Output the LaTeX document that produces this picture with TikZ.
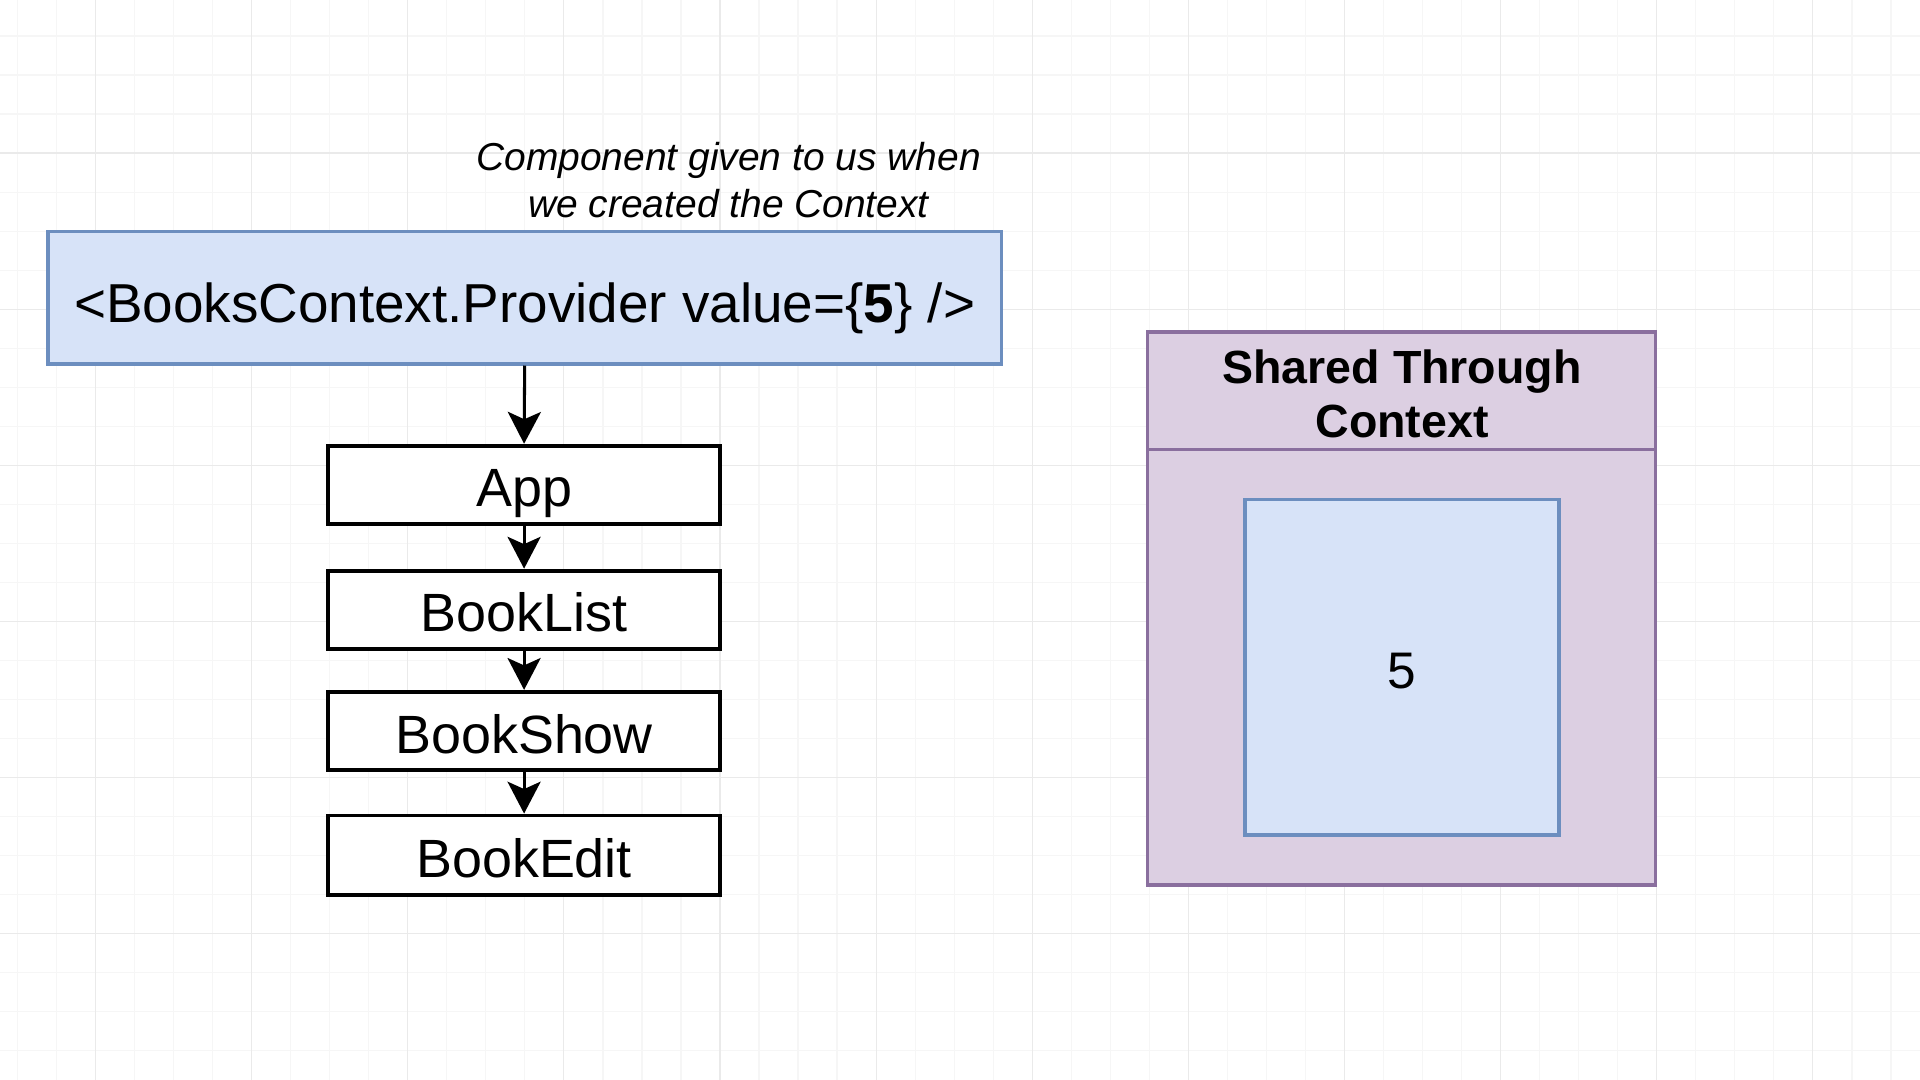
\documentclass[tikz,border=0pt]{standalone}
\usepackage{fontspec}
\setmainfont{Liberation Sans}
\usetikzlibrary{arrows.meta}
\definecolor{provfill}{HTML}{D7E3F8}
\definecolor{provline}{HTML}{6C8EBF}
\definecolor{grpfill}{HTML}{DCCFE2}
\definecolor{grpline}{HTML}{8A6F9E}
\definecolor{gridminor}{HTML}{F6F6F6}
\definecolor{gridmajor}{HTML}{EAEAEA}
\tikzset{
  compbox/.style={draw=black, line width=1.6pt, fill=white, rectangle,
    minimum width=160pt, minimum height=32pt, inner sep=0pt,
    text height=18pt, text depth=0pt,
    font=\fontsize{22}{26}\selectfont},
  bluebox/.style={draw=provline, line width=1.5pt, fill=provfill, rectangle, inner sep=0pt},
  flowarrow/.style={draw=black, line width=1.25pt,
    -{Stealth[length=13pt,width=13.5pt,inset=3pt]}},
}
\begin{document}
\begin{tikzpicture}[x=0.5pt,y=-0.5pt]
\useasboundingbox (0,0) rectangle (1568,882);
\fill[white] (0,0) rectangle (1568,882);
% grid
\foreach \i in {0,...,49} {
  \draw[gridminor, line width=0.5pt] ({14.25+31.875*\i},0) -- ({14.25+31.875*\i},882);
}
\foreach \i in {0,...,28} {
  \draw[gridminor, line width=0.5pt] (0,{29.4+31.875*\i}) -- (1568,{29.4+31.875*\i});
}
\foreach \i in {0,...,12} {
  \draw[gridmajor, line width=0.5pt] ({78+127.5*\i},0) -- ({78+127.5*\i},882);
}
\foreach \i in {0,...,6} {
  \draw[gridmajor, line width=0.5pt] (0,{-2.5+127.5*\i}) -- (1568,{-2.5+127.5*\i});
}

% caption
\node[align=center, font=\fontsize{15.9}{19}\selectfont\itshape] (caption) at (595,147)
  {Component given to us when\\we created the Context};

% provider
\node[bluebox, minimum width=389.5pt, minimum height=54pt,
      text height=20pt, text depth=0pt,
      font=\fontsize{22.4}{26}\selectfont] (prov) at (428.5,243)
  {<BooksContext.Provider value=\{\textbf{5}\} />};

% component chain
\node[compbox] (app) at (428,396) {App};
\node[compbox] (list) at (428,498) {BookList};
\node[compbox] (show) at (428,597) {BookShow};
\node[compbox, minimum height=32.5pt] (edit) at (428,698.5) {BookEdit};

\draw[flowarrow] (prov.south) -- (app.north);
\draw[flowarrow] (app.south) -- (list.north);
\draw[flowarrow] (list.south) -- (show.north);
\draw[flowarrow] (show.south) -- (edit.north);

% shared group
\node[draw=grpline, line width=1.5pt, fill=grpfill, rectangle, inner sep=0pt,
      minimum width=207.5pt, minimum height=226pt] (group) at (1144.5,497) {};
\coordinate (hl) at (937,367);
\coordinate (hr) at (1352,367);
\draw[grpline, line width=1.5pt] (hl) -- (hr);
\node[align=center, font=\fontsize{19}{22}\selectfont\bfseries] (title) at (1145,322)
  {Shared Through\\Context};
\node[bluebox, minimum width=128pt, minimum height=137pt,
      text height=17pt, text depth=0pt,
      font=\fontsize{21}{24}\selectfont] (value) at (1145,545) {5};
\end{tikzpicture}
\end{document}
